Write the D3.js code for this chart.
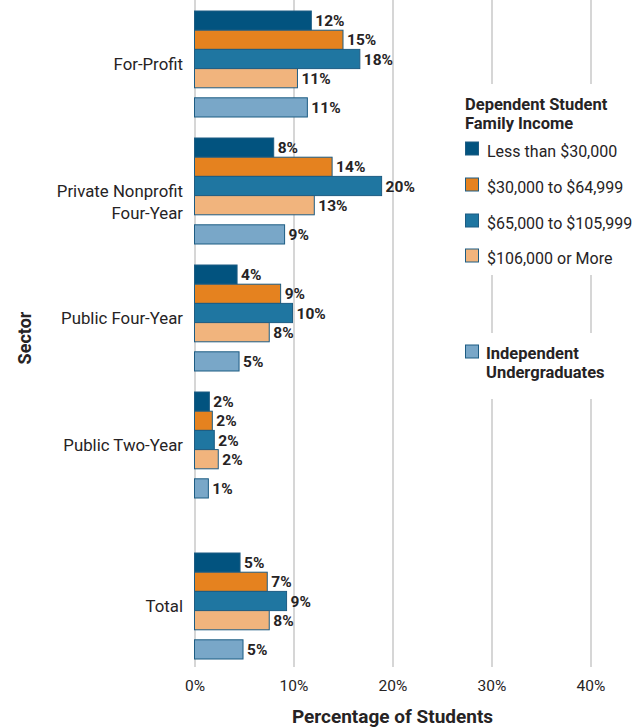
<!DOCTYPE html>
<html lang="en">
<head>
  <meta charset="UTF-8">
  <title>Percentage of Students by Sector</title>
  <script src="https://d3js.org/d3.v7.min.js"></script>
  <style>
    body {
      margin: 0;
      background: #fff;
      font-family: "Roboto", sans-serif;
    }
    svg text { fill: #262324; }
  </style>
</head>
<body>
  <svg width="636" height="727"></svg>

  <script>
    // Sectors (category axis), top to bottom
    const sectors = ["For-Profit", "Private Nonprofit Four-Year", "Public Four-Year", "Public Two-Year", "Total"];
    const sectorLines = [["For-Profit"], ["Private Nonprofit", "Four-Year"], ["Public Four-Year"], ["Public Two-Year"], ["Total"]];

    // Series names
    const seriesNames = ["Less than $30,000", "$30,000 to $64,999", "$65,000 to $105,999", "$106,000 or More", "Independent Undergraduates"];

    // Bar lengths (percent)
    const lessThan30k   = [11.8, 8.0, 4.3, 1.5, 4.6];
    const from30to65k   = [15.0, 13.9, 8.7, 1.8, 7.35];
    const from65to106k  = [16.7, 18.9, 9.9, 2.0, 9.3];
    const over106k      = [10.4, 12.1, 7.55, 2.4, 7.55];
    const independent   = [11.4, 9.1, 4.5, 1.4, 4.9];

    // Printed value labels
    const lessThan30kLabels  = [12, 8, 4, 2, 5];
    const from30to65kLabels  = [15, 14, 9, 2, 7];
    const from65to106kLabels = [18, 20, 10, 2, 9];
    const over106kLabels     = [11, 13, 8, 2, 8];
    const independentLabels  = [11, 9, 5, 1, 5];

    const xTicks = [0, 10, 20, 30, 40];

    const seriesValues = [lessThan30k, from30to65k, from65to106k, over106k, independent];
    const seriesLabels = [lessThan30kLabels, from30to65kLabels, from65to106kLabels, over106kLabels, independentLabels];
    const colors = ["#02537f", "#e5821f", "#1f76a1", "#f1b47d", "#79a7c8"];
    const barStroke = "#1d5c83";

    const svg = d3.select("svg");

    const x = d3.scaleLinear().domain([0, 40]).range([194.5, 590.5]);

    // group bands; Total sits a little lower than the others
    const y = d3.scaleBand().domain(sectors).range([11, 11 + 127 * sectors.length]);
    const totalGap = 34;
    const groupTop = s => y(s) + (s === "Total" ? totalGap : 0);

    const barH = 19.2;
    const indepGap = 10;
    const barOffset = i => i * barH + (i === 4 ? indepGap : 0);

    // gridlines + tick labels
    const gridBottom = 667;
    const axis = svg.append("g")
      .attr("transform", `translate(0,${gridBottom})`)
      .call(d3.axisBottom(x).tickValues(xTicks).tickFormat(d => d + "%")
        .tickSize(-gridBottom).tickPadding(13));
    axis.select(".domain").remove();
    axis.selectAll(".tick line").attr("stroke", "#c9c9c9").attr("stroke-width", 1.5);
    axis.selectAll(".tick text")
      .attr("font-family", "Roboto, sans-serif")
      .attr("font-size", 15.5)
      .attr("fill", "#262324");

    // legend backgrounds hide the gridlines
    svg.append("rect").attr("x", 455).attr("y", 84).attr("width", 181).attr("height", 191).attr("fill", "#fff");
    svg.append("rect").attr("x", 455).attr("y", 333).attr("width", 181).attr("height", 66).attr("fill", "#fff");

    // bars
    const rows = [];
    sectors.forEach((s, si) => {
      seriesValues.forEach((vals, ki) => {
        rows.push({ sector: s, k: ki, value: vals[si], label: seriesLabels[ki][si] });
      });
    });

    svg.append("g").selectAll("rect")
      .data(rows)
      .join("rect")
      .attr("x", x(0))
      .attr("y", d => groupTop(d.sector) + barOffset(d.k))
      .attr("width", d => x(d.value) - x(0))
      .attr("height", barH)
      .attr("fill", d => colors[d.k])
      .attr("stroke", barStroke)
      .attr("stroke-width", 1);

    svg.append("g").selectAll("text")
      .data(rows)
      .join("text")
      .attr("x", d => x(d.value) + 4)
      .attr("y", d => groupTop(d.sector) + barOffset(d.k) + barH / 2 + 5.5)
      .attr("font-size", 15.5)
      .attr("font-weight", "bold")
      .text(d => d.label + "%");

    // sector labels
    svg.append("g").selectAll("text")
      .data(sectors)
      .join("text")
      .attr("text-anchor", "end")
      .attr("font-size", 16.8)
      .attr("fill", "#2e2b2c")
      .each(function(s, i) {
        const t = d3.select(this);
        const cy = groupTop(s) + 53;
        sectorLines[i].forEach((line, li) => {
          t.append("tspan")
            .attr("x", 183)
            .attr("y", cy + 6 + li * 22)
            .text(line);
        });
      });

    // axis titles
    svg.append("text")
      .attr("transform", "translate(31,338) rotate(-90)")
      .attr("text-anchor", "middle")
      .attr("font-size", 18)
      .attr("font-weight", "bold")
      .text("Sector");

    svg.append("text")
      .attr("x", (x(0) + x(40)) / 2)
      .attr("y", 723)
      .attr("text-anchor", "middle")
      .attr("font-size", 19)
      .attr("font-weight", "bold")
      .text("Percentage of Students");

    // legend
    const legend = svg.append("g");
    legend.append("text")
      .attr("font-size", 16.5)
      .attr("font-weight", "bold")
      .selectAll("tspan")
      .data(["Dependent Student", "Family Income"])
      .join("tspan")
      .attr("x", 465)
      .attr("y", (d, i) => 110 + i * 18.5)
      .text(d => d);

    const itemBase = [157, 193, 229, 264];
    seriesNames.slice(0, 4).forEach((name, i) => {
      legend.append("rect")
        .attr("x", 465.5).attr("y", itemBase[i] - 15)
        .attr("width", 13).attr("height", 13)
        .attr("fill", colors[i]).attr("stroke", barStroke);
      legend.append("text")
        .attr("x", 487).attr("y", itemBase[i])
        .attr("font-size", 16)
        .text(name);
    });

    legend.append("rect")
      .attr("x", 465.5).attr("y", 345)
      .attr("width", 13).attr("height", 13)
      .attr("fill", colors[4]).attr("stroke", barStroke);
    legend.append("text")
      .attr("font-size", 16.5)
      .attr("font-weight", "bold")
      .selectAll("tspan")
      .data(["Independent", "Undergraduates"])
      .join("tspan")
      .attr("x", 486)
      .attr("y", (d, i) => 359 + i * 19)
      .text(d => d);
  </script>
</body>
</html>
